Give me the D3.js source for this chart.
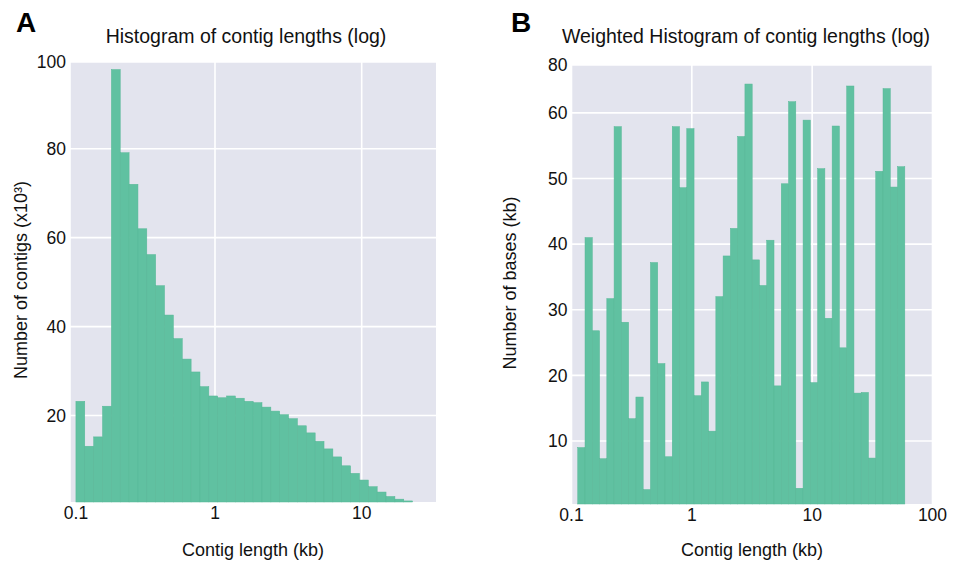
<!DOCTYPE html>
<html>
<head>
<meta charset="utf-8">
<script src="https://cdn.jsdelivr.net/npm/d3@7"></script>
<style>
  html, body { margin: 0; padding: 0; background: #ffffff; }
  svg { display: block; font-family: "Liberation Sans", Arial, Helvetica, sans-serif; }
</style>
</head>
<body>
<svg id="chart" width="956" height="565"></svg>
<script>
// ---- Data ----
// Log-spaced histogram bin edges (kb)
const binEdges = [0.1127, 0.1295, 0.1489, 0.1711, 0.1966, 0.2259, 0.2597, 0.2984, 0.3429, 0.3941,
  0.4529, 0.5205, 0.5981, 0.6874, 0.7899, 0.9078, 1.0433, 1.1989, 1.3778, 1.5834,
  1.8197, 2.0912, 2.4033, 2.7619, 3.1739, 3.6475, 4.1914, 4.8183, 5.5363, 6.3621,
  7.3114, 8.4021, 9.6560, 11.096, 12.752, 14.655, 16.841, 19.354, 22.242, 25.560,
  29.376, 33.758, 38.795, 44.586, 51.238, 58.88];

// Panel A: number of contigs (x10^3) per bin
const contigCounts = [23.2, 13.1, 15.2, 22.1, 97.8, 79.1, 72.0, 62.0, 56.2, 49.2,
  42.6, 37.3, 32.7, 29.8, 26.5, 24.4, 24.0, 24.4, 23.9, 23.2,
  22.9, 21.9, 21.0, 20.2, 19.3, 17.7, 16.1, 14.2, 12.5, 10.7,
  8.7, 7.0, 5.5, 4.0, 2.8, 1.8, 1.2, 0.8];

// Panel B: number of bases (kb) per bin
const weightedBases = [9.0, 41.0, 26.8, 7.3, 31.7, 57.9, 28.1, 13.4, 16.7, 2.6,
  37.2, 21.8, 7.6, 57.9, 48.6, 57.6, 16.9, 19.0, 11.5, 32.0,
  38.2, 42.4, 56.4, 64.4, 37.6, 33.7, 40.6, 18.4, 49.2, 61.7,
  2.8, 58.9, 18.9, 51.5, 28.7, 58.0, 24.2, 64.1, 17.3, 17.4,
  7.4, 51.1, 63.7, 48.7, 51.8];

// Axis limits and ticks
const xLimA = [0.1027, 32.1];
const yLimA = [0.56, 99.5];
const xTicksA = [0.1, 1, 10];
const xTickLabelsA = ["0.1", "1", "10"];
const yTicksA = [20, 40, 60, 80, 100];
const yTickLabelsA = ["20", "40", "60", "80", "100"];

const xLimB = [0.1, 100];
const yLimB = [0.4, 67.3];
const xTicksB = [0.1, 1, 10, 100];
const xTickLabelsB = ["0.1", "1", "10", "100"];
const yTicksB = [10, 20, 30, 40, 50, 60, 80];
const yTickLabelsB = ["10", "20", "30", "40", "50", "60", "80"];

const panelLetters = ["A", "B"];
const titles = ["Histogram of contig lengths (log)", "Weighted Histogram of contig lengths (log)"];
const xTitles = ["Contig length (kb)", "Contig length (kb)"];
const yTitles = ["Number of contigs (x10\u00B3)", "Number of bases (kb)"];

// ---- Styles ----
const BG = "#e3e4ee";
const BAR = "#60c1a1";
const BAR_EDGE = "#56b796";
const TEXT = "#111111";

const svg = d3.select("#chart");

function drawPanel(cfg) {
  const x = d3.scaleLog().domain(cfg.xLim).range([cfg.left, cfg.right]).clamp(true);
  const y = d3.scaleLinear().domain(cfg.yLim).range([cfg.bottom, cfg.top]).clamp(true);
  const g = svg.append("g");

  g.append("rect")
    .attr("x", cfg.left).attr("y", cfg.top)
    .attr("width", cfg.right - cfg.left).attr("height", cfg.bottom - cfg.top)
    .attr("fill", BG);

  // gridlines
  g.selectAll("line.gy").data(cfg.yTicks).enter().append("line")
    .attr("x1", cfg.left).attr("x2", cfg.right)
    .attr("y1", d => y(d)).attr("y2", d => y(d))
    .attr("stroke", "#ffffff").attr("stroke-width", 1.6);
  g.selectAll("line.gx").data(cfg.xTicks).enter().append("line")
    .attr("x1", d => x(d)).attr("x2", d => x(d))
    .attr("y1", cfg.top).attr("y2", cfg.bottom)
    .attr("stroke", "#ffffff").attr("stroke-width", 1.6);

  // bars
  g.selectAll("rect.bar").data(cfg.values).enter().append("rect")
    .attr("x", (d, i) => x(binEdges[i]))
    .attr("width", (d, i) => x(binEdges[i + 1]) - x(binEdges[i]))
    .attr("y", d => y(d))
    .attr("height", d => cfg.bottom - y(d))
    .attr("fill", BAR)
    .attr("stroke", BAR_EDGE).attr("stroke-width", 0.5);

  // y tick labels
  g.selectAll("text.yt").data(cfg.yTicks).enter().append("text")
    .attr("x", cfg.left - 4).attr("y", d => y(d))
    .attr("dy", "0.35em")
    .attr("text-anchor", "end")
    .attr("font-size", 17.5).attr("fill", TEXT)
    .text((d, i) => cfg.yTickLabels[i]);

  // x tick labels
  g.selectAll("text.xt").data(cfg.xTicks).enter().append("text")
    .attr("x", d => x(d)).attr("y", cfg.bottom + 16.5)
    .attr("dx", (d, i) => (i === 0 ? cfg.firstLabelDx : 0))
    .attr("text-anchor", "middle")
    .attr("font-size", 17.5).attr("fill", TEXT)
    .text((d, i) => cfg.xTickLabels[i]);

  // title
  g.append("text")
    .attr("x", cfg.titleX).attr("y", 42.5)
    .attr("text-anchor", "middle")
    .attr("font-size", 19.5).attr("fill", TEXT)
    .text(cfg.title);

  // x axis title
  g.append("text")
    .attr("x", cfg.xTitleX).attr("y", 556)
    .attr("text-anchor", "middle")
    .attr("font-size", 18).attr("fill", TEXT)
    .text(cfg.xTitle);

  // y axis title
  g.append("text")
    .attr("transform", `translate(${cfg.yTitleX},${cfg.yTitleY}) rotate(-90)`)
    .attr("text-anchor", "middle")
    .attr("font-size", 18).attr("fill", TEXT)
    .text(cfg.yTitle);

  // panel letter
  g.append("text")
    .attr("x", cfg.letterX).attr("y", 32)
    .attr("font-size", 28).attr("font-weight", "bold").attr("fill", "#000")
    .text(cfg.letter);
}

drawPanel({
  left: 70, right: 436, top: 62, bottom: 502,
  xLim: xLimA, yLim: yLimA,
  xTicks: xTicksA, xTickLabels: xTickLabelsA, firstLabelDx: 6,
  yTicks: yTicksA, yTickLabels: yTickLabelsA,
  values: contigCounts,
  title: titles[0], titleX: 246,
  xTitle: xTitles[0], xTitleX: 253,
  yTitle: yTitles[0], yTitleX: 27, yTitleY: 280,
  letter: panelLetters[0], letterX: 16
});

drawPanel({
  left: 571.5, right: 932.5, top: 65, bottom: 504,
  xLim: xLimB, yLim: yLimB,
  xTicks: xTicksB, xTickLabels: xTickLabelsB, firstLabelDx: 0,
  yTicks: yTicksB, yTickLabels: yTickLabelsB,
  values: weightedBases,
  title: titles[1], titleX: 746,
  xTitle: xTitles[1], xTitleX: 752,
  yTitle: yTitles[1], yTitleX: 516, yTitleY: 283,
  letter: panelLetters[1], letterX: 511
});
</script>
</body>
</html>
